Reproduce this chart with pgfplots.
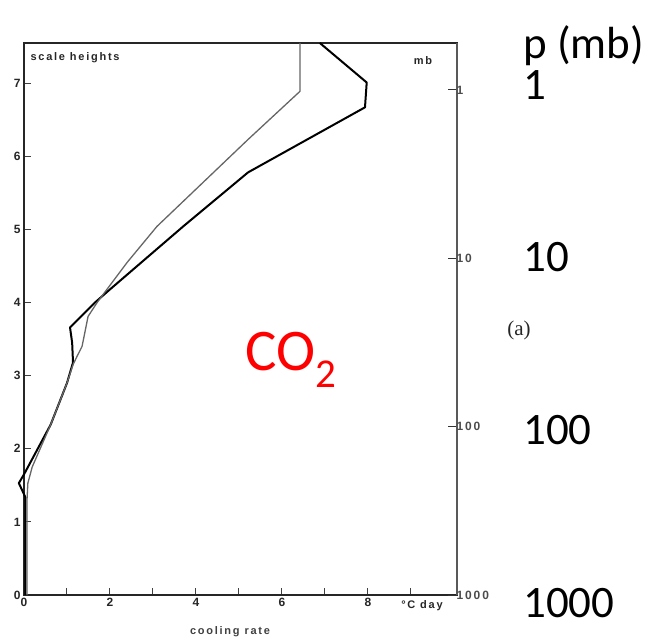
\documentclass[border=0pt]{standalone}
\usepackage{fontspec}
\setmainfont{Liberation Sans}
\newfontfamily\calfont{Carlito}
\newfontfamily\serifa{Liberation Serif}
\newfontfamily\scanfont[LetterSpace=16]{Liberation Sans}
\usepackage{pgfplots}
\pgfplotsset{compat=1.18}
\begin{document}
\begin{tikzpicture}
\path[use as bounding box] (0pt,0pt) rectangle (650pt,640pt);
\begin{axis}[
  at={(24pt,45pt)}, anchor=south west, scale only axis,
  width=433pt, height=552pt,
  xmin=0, xmax=10.07, ymin=0, ymax=7.55,
  clip=false,
  axis line style={line width=1.6pt, black!85},
  xtick={0,2,4,6,8}, minor xtick={1,3,5,7,9},
  ytick={0,1,2,3,4,5,6,7},
  tick align=inside,
  major tick length=7pt, minor tick length=7pt,
  every tick/.style={black!75, line width=1pt},
  ytick pos=left, xtick pos=bottom,
  xticklabel style={font=\fontsize{12}{12}\selectfont\bfseries, black!85},
  yticklabel style={font=\fontsize{12}{12}\selectfont\bfseries, black!85},
  /pgf/number format/assume math mode=true,
]
\addplot[black, line width=2pt, line join=round] coordinates {
(6.88,7.55) (7.97,7.01) (7.93,6.67) (5.21,5.78) (3.70,5.04) (2.0,4.18)
(1.65,4.0) (1.07,3.66) (1.12,3.45) (1.14,3.18) (1.0,2.90) (0.62,2.33)
(0.0,1.65) (-0.12,1.53) (0.03,1.34) (0.03,0)
};
\addplot[black!60, line width=1.3pt, line join=round] coordinates {
(6.42,7.55) (6.42,6.89) (5.21,6.23) (3.09,5.04) (2.40,4.55) (1.70,4.0)
(1.49,3.81) (1.35,3.40) (1.23,3.26) (1.14,3.15) (1.0,2.90) (0.62,2.33)
(0.19,1.75) (0.09,1.53) (0.07,1.3) (0.07,0)
};
\end{axis}
\begin{axis}[
  at={(24pt,45pt)}, anchor=south west, scale only axis,
  width=433pt, height=552pt,
  xmin=0, xmax=10.07, ymin=0, ymax=7.55,
  axis x line=none, axis y line*=right,
  axis line style={line width=1.6pt, black!65},
  ytick={0,2.3026,4.6052,6.9078},
  yticklabels={1000,100,10,1},
  tick align=inside, major tick length=9pt,
  every tick/.style={black!80, line width=1pt},
  yticklabel style={font=\scanfont\fontsize{12}{12}\selectfont\bfseries, black!70, xshift=-4pt},
]
\end{axis}
\node[anchor=west, font=\scanfont\fontsize{11}{11}\selectfont\bfseries, black!85] at (27pt,582pt) {scale heights};
\node[font=\scanfont\fontsize{11}{11}\selectfont\bfseries, black!85] at (423pt,579pt) {mb};
\node[font=\scanfont\fontsize{11}{11}\selectfont\bfseries, black!75] at (230pt,8pt) {cooling rate};
\node[font=\scanfont\fontsize{11}{11}\selectfont\bfseries, black!85] at (422pt,34pt) {\textdegree C day};
\node[font=\serifa\fontsize{21}{21}\selectfont, black!85] at (519pt,310pt) {(a)};
\node[anchor=base west, inner sep=0pt, font=\calfont\fontsize{45}{45}\selectfont] at (523pt,581pt) {p (mb)};
\node[anchor=base west, inner sep=0pt, font=\calfont\fontsize{45}{45}\selectfont] at (523pt,540pt) {1};
\node[anchor=base west, inner sep=0pt, font=\calfont\fontsize{45}{45}\selectfont] at (523pt,368pt) {10};
\node[anchor=base west, inner sep=0pt, font=\calfont\fontsize{45}{45}\selectfont] at (523pt,195pt) {100};
\node[anchor=base west, inner sep=0pt, font=\calfont\fontsize{45}{45}\selectfont] at (523pt,23pt) {1000};
\node[anchor=base west, inner sep=0pt, font=\calfont\fontsize{59}{59}\selectfont, red] at (245pt,269pt) {CO\raisebox{-17pt}{\fontsize{41}{41}\selectfont 2}};
\end{tikzpicture}
\end{document}
